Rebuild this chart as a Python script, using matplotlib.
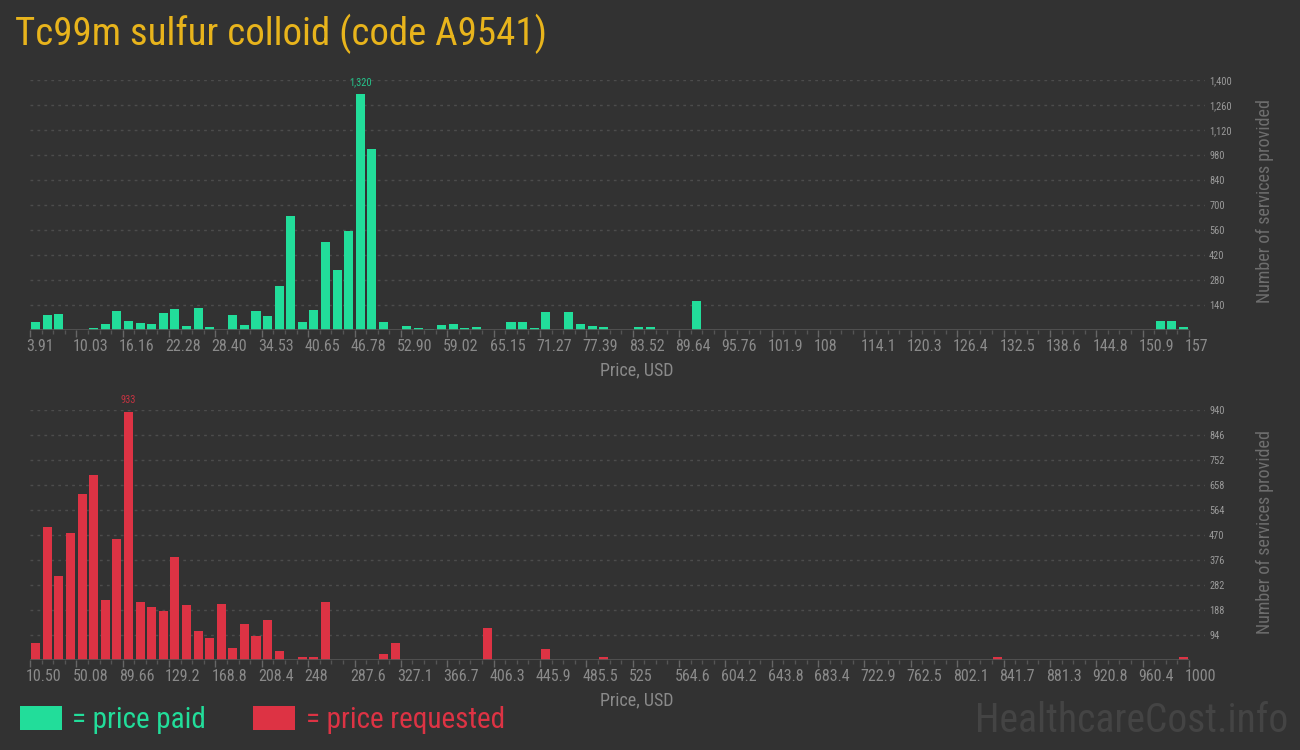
import numpy as np
import matplotlib
matplotlib.use('Agg')
import matplotlib.pyplot as plt
from matplotlib import font_manager
from matplotlib.patches import Patch
from matplotlib.transforms import ScaledTranslation

# --- dados (100 faixas de preço por painel) ---
paid_min, paid_max = 3.91, 157.0
paid_counts = [48, 88, 93, 0, 0, 15, 37, 110, 54, 43,
               37, 99, 121, 26, 127, 20, 0, 88, 32, 110,
               82, 250, 641, 48, 116, 496, 339, 557, 1320, 1016,
               48, 0, 26, 15, 9, 32, 37, 15, 20, 0,
               0, 48, 48, 15, 104, 0, 104, 37, 26, 20,
               0, 0, 20, 20, 0, 0, 0, 166, 0, 0,
               0, 0, 0, 0, 0, 0, 0, 0, 0, 0,
               0, 0, 0, 0, 0, 0, 0, 0, 0, 0,
               0, 0, 0, 0, 0, 0, 0, 0, 0, 0,
               0, 0, 0, 0, 0, 0, 0, 54, 54, 20]
paid_ticks = ['3.91', '10.03', '16.16', '22.28', '28.40', '34.53', '40.65',
              '46.78', '52.90', '59.02', '65.15', '71.27', '77.39', '83.52',
              '89.64', '95.76', '101.9', '108', '114.1', '120.3', '126.4',
              '132.5', '138.6', '144.8', '150.9', '157']
paid_yticks = [140, 280, 420, 560, 700, 840, 980, 1120, 1260, 1400]

req_min, req_max = 10.50, 1000.0
req_counts = [65, 501, 317, 478, 625, 696, 227, 456, 933, 219,
              200, 185, 388, 208, 110, 84, 212, 46, 136, 91,
              151, 35, 0, 13, 13, 219, 0, 0, 0, 0,
              24, 65, 0, 0, 0, 0, 0, 0, 0, 121,
              0, 0, 0, 0, 43, 0, 0, 0, 0, 13,
              0, 0, 0, 0, 0, 0, 0, 0, 0, 0,
              0, 0, 0, 0, 0, 0, 0, 0, 0, 0,
              0, 0, 0, 0, 0, 0, 0, 0, 0, 0,
              0, 0, 0, 13, 0, 0, 0, 0, 0, 0,
              0, 0, 0, 0, 0, 0, 0, 0, 0, 13]
req_ticks = ['10.50', '50.08', '89.66', '129.2', '168.8', '208.4', '248',
             '287.6', '327.1', '366.7', '406.3', '445.9', '485.5', '525',
             '564.6', '604.2', '643.8', '683.4', '722.9', '762.5', '802.1',
             '841.7', '881.3', '920.8', '960.4', '1000']
req_yticks = [94, 188, 282, 376, 470, 564, 658, 752, 846, 940]

# --- estilo ---
installed = {f.name for f in font_manager.fontManager.ttflist}
fonte = next((f for f in ['Roboto Condensed', 'Liberation Sans Narrow', 'Roboto']
              if f in installed), 'DejaVu Sans')
plt.rcParams['font.family'] = [fonte, 'DejaVu Sans']

BG = '#323232'
VERDE = '#22dd9a'
VERMELHO = '#dd3344'
DOURADO = '#e8b41c'

fig = plt.figure(figsize=(13, 7.5), dpi=100, facecolor=BG)


def painel(rect, lo, hi, counts, ticklabels, yticks, cor):
    ax = fig.add_axes(rect, facecolor=BG)
    edges = np.linspace(lo, hi, len(counts) + 1)
    binw = edges[1] - edges[0]
    centros = edges[:-1] + binw / 2
    ax.bar(centros, counts, width=binw * 0.78, color=cor, zorder=3)

    # rótulo do pico
    imax = int(np.argmax(counts))
    ax.annotate(f"{counts[imax]:,}", (centros[imax], counts[imax]),
                xytext=(0, 5), textcoords='offset points', ha='center',
                va='bottom', fontsize=7.5, color=cor, alpha=0.85)

    ax.set_xlim(lo, hi + (hi - lo) * 16 / 1159)
    ax.set_ylim(0, yticks[-1])
    for s in ax.spines.values():
        s.set_visible(False)
    ax.hlines(0, edges[0], edges[-1], color='#555555', lw=1.2, zorder=4)

    ax.set_xticks(edges[::4])
    ax.set_xticks(edges, minor=True)
    ax.set_xticklabels(ticklabels)
    ax.tick_params(axis='x', which='major', length=5, width=1, color='#666666',
                   labelcolor='#8a8a8a', labelsize=11.5, pad=1)
    ax.tick_params(axis='x', which='minor', length=3, width=1, color='#555555')
    desloc = ScaledTranslation(-0.04, 0, fig.dpi_scale_trans)
    for t in ax.xaxis.get_major_ticks():
        t.label1.set_horizontalalignment('left')
        t.label1.set_transform(t.label1.get_transform() + desloc)

    ax.yaxis.tick_right()
    ax.set_yticks(yticks)
    ax.set_yticklabels([f"{v:,}" for v in yticks])
    ax.tick_params(axis='y', length=0, pad=3, labelcolor='#9a9a9a', labelsize=7.5)
    ax.grid(axis='y', color='#4c4c4c', linestyle=(0, (2, 3)), lw=1, zorder=0)

    ax.set_xlabel('Price, USD', color='#8a8a8a', fontsize=13)
    ax.xaxis.set_label_coords((637 - 30) / 1175, -0.125)
    return ax


ax1 = painel([30 / 1300, 1 - 330.3 / 750, 1175 / 1300, 250.3 / 750],
             paid_min, paid_max, paid_counts, paid_ticks, paid_yticks, VERDE)
ax2 = painel([30 / 1300, 1 - 660.3 / 750, 1175 / 1300, 250.3 / 750],
             req_min, req_max, req_counts, req_ticks, req_yticks, VERMELHO)

# rótulos do eixo y (lado direito)
fig.text(1265 / 1300, 1 - 201 / 750, 'Number of services provided', rotation=90,
         ha='center', va='center', color='#6e6e6e', fontsize=13)
fig.text(1265 / 1300, 1 - 532 / 750, 'Number of services provided', rotation=90,
         ha='center', va='center', color='#6e6e6e', fontsize=13)

# título
fig.text(15 / 1300, 1 - 45 / 750, 'Tc99m sulfur colloid (code A9541)',
         ha='left', va='baseline', color=DOURADO, fontsize=28)

# legenda
handles = [Patch(facecolor=VERDE), Patch(facecolor=VERMELHO)]
leg = fig.legend(handles, ['= price paid', '= price requested'], ncol=2,
                 loc='center left', bbox_to_anchor=(20 / 1300, 1 - 720 / 750),
                 frameon=False, fontsize=21, handlelength=1.45, handleheight=0.85,
                 handletextpad=0.35, columnspacing=1.6, borderpad=0, borderaxespad=0)
for txt, cor in zip(leg.get_texts(), [VERDE, VERMELHO]):
    txt.set_color(cor)

# marca d'água
fig.text(1288 / 1300, 1 - 720 / 750, 'HealthcareCost.info', ha='right', va='center',
         color='#444444', fontsize=28.5)

fig.savefig('out.png', dpi=100, facecolor=BG)
